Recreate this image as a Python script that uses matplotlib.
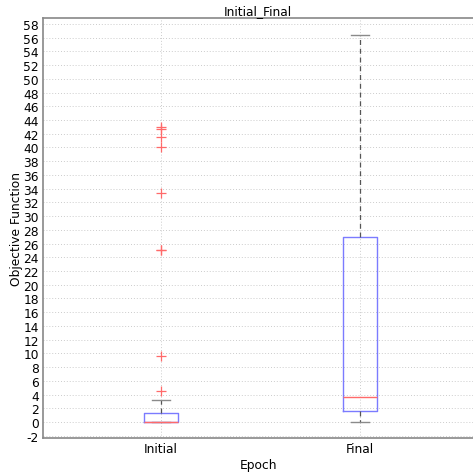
import matplotlib
matplotlib.use("Agg")
import matplotlib.pyplot as plt

# Summary statistics
labels = ["Initial", "Final"]
q1 = [0.0, 1.6]
median = [0.0, 3.7]
q3 = [1.3, 27.0]
whisker_low = [0.0, 0.0]
whisker_high = [3.15, 56.4]
outliers_initial = [43.05, 42.75, 41.6, 40.0, 33.3, 25.1, 25.0, 9.6, 4.45]
outliers_final = []

yticks = list(range(-2, 59, 2))

plt.rcParams["font.family"] = "DejaVu Sans"
plt.rcParams["font.size"] = 8.8

stats = []
for i, name in enumerate(labels):
    stats.append({
        "label": name,
        "q1": q1[i],
        "med": median[i],
        "q3": q3[i],
        "whislo": whisker_low[i],
        "whishi": whisker_high[i],
        "fliers": [outliers_initial, outliers_final][i],
    })

fig = plt.figure(figsize=(4.73, 4.77), dpi=100)
ax = fig.add_axes([43 / 473, (477 - 439.3) / 477, 1 - 43 / 473, (439.3 - 19) / 477])

ax.bxp(
    stats,
    positions=[1, 2],
    widths=0.175,
    boxprops=dict(color="#7b7bff", linewidth=1.0),
    medianprops=dict(color="#ff6a6a", linewidth=1.0),
    whiskerprops=dict(color="#555555", linestyle=(0, (4, 3)), linewidth=0.9),
    capprops=dict(color="#8a8a8a", linewidth=1.0),
    flierprops=dict(marker="+", markeredgecolor="#ff6a6a", markersize=7, markeredgewidth=0.9),
    capwidths=0.09,
)

ax.set_xlim(0.407, 2.568)
ax.set_ylim(-2.38, 58.87)
ax.set_yticks(yticks)
ax.set_yticklabels([str(t) for t in yticks])
ax.set_xticks([1, 2])
ax.set_xticklabels(labels)
ax.tick_params(length=0, pad=3)
ax.grid(True, linestyle=(0, (1, 2)), color="#cccccc", linewidth=0.7)
ax.set_axisbelow(True)

for side in ["left", "bottom", "top"]:
    ax.spines[side].set_color("#888888")
    ax.spines[side].set_linewidth(1.2)
ax.spines["right"].set_visible(False)

ax.set_title("Initial_Final", fontsize=8.8, pad=3)
ax.set_xlabel("Epoch", labelpad=2)
ax.set_ylabel("Objective Function", labelpad=0)

fig.savefig("out.png", dpi=100)
